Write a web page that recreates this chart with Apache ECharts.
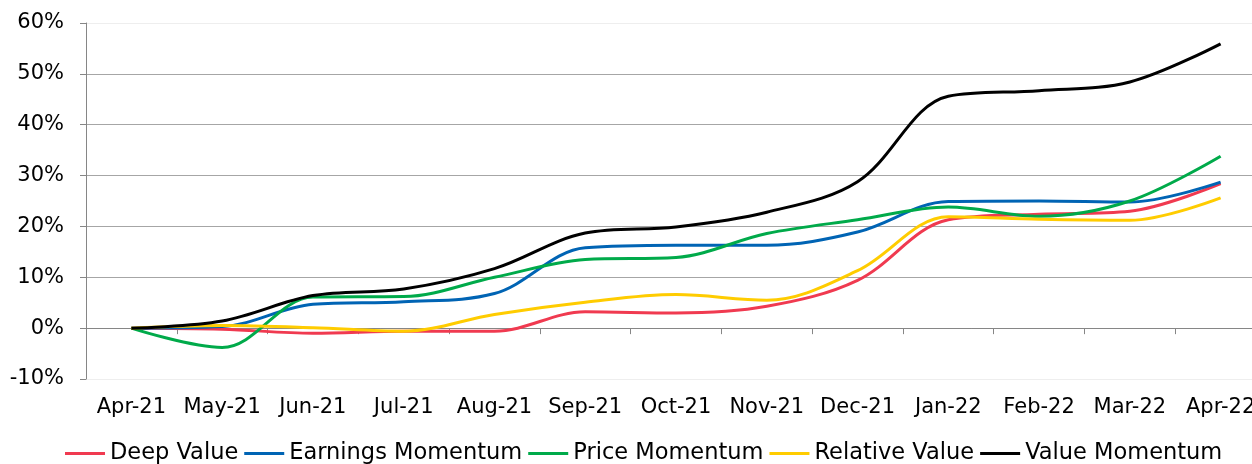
<!DOCTYPE html>
<html>
<head>
	<meta charset="utf-8">
	<title>Factor returns</title>
	<script src="https://cdn.jsdelivr.net/npm/echarts@6/dist/echarts.min.js"></script>
	<style>
		html, body { margin: 0; padding: 0; background: #fff; overflow: hidden; }
		/* the plot runs a little past the right edge of the window, as in the source */
		#chart { width: 1266px; height: 464px; }
	</style>
</head>
<body>
	<div id="chart"></div>
	<script type="text/javascript">
		// months on the x axis
		var months = ['Apr-21', 'May-21', 'Jun-21', 'Jul-21', 'Aug-21', 'Sep-21', 'Oct-21',
			'Nov-21', 'Dec-21', 'Jan-22', 'Feb-22', 'Mar-22', 'Apr-22'];

		// cumulative return, in %
		var deepValue = [0, -0.2, -1.0, -0.6, -0.6, 3.2, 3.0, 4.3, 9.4, 21.3, 22.4, 23.0, 28.4];
		var earningsMomentum = [0, 0.3, 4.7, 5.2, 6.8, 15.8, 16.3, 16.3, 18.9, 24.9, 25.0, 24.8, 28.7];
		var priceMomentum = [0, -3.8, 6.1, 6.2, 10.0, 13.5, 13.9, 18.6, 21.3, 23.8, 22.0, 25.0, 33.8];
		var relativeValue = [0, 0.5, 0.1, -0.6, 2.7, 5.1, 6.6, 5.5, 11.3, 21.9, 21.4, 21.2, 25.6];
		var valueMomentum = [0, 1.4, 6.4, 7.7, 11.7, 18.7, 19.9, 22.8, 28.8, 45.6, 46.7, 48.4, 55.9];

		var yTicks = [-10, 0, 10, 20, 30, 40, 50, 60];

		var seriesList = [
			{ name: 'Deep Value', data: deepValue, color: '#F03A50' },
			{ name: 'Earnings Momentum', data: earningsMomentum, color: '#0064B4' },
			{ name: 'Price Momentum', data: priceMomentum, color: '#00AA4A' },
			{ name: 'Relative Value', data: relativeValue, color: '#FFCC00' },
			{ name: 'Value Momentum', data: valueMomentum, color: '#000000' }
		];

		var font = 'DejaVu Sans, Verdana, sans-serif';
		var myChart = echarts.init(document.getElementById('chart'));

		// faint lines at the top and bottom, gray ones in between
		var gridColors = yTicks.map(function(v, i) {
			return (i === 0 || i === yTicks.length - 1) ? '#eeeeee' : '#a6a6a6';
		});

		var option = {
			animation: false,
			grid: { left: 86, right: 0, top: 23, bottom: 85 },
			legend: {
				left: 65,
				top: 442,
				padding: 0,
				icon: 'rect',
				itemWidth: 40,
				itemHeight: 3,
				itemGap: 6,
				textStyle: { fontFamily: font, fontSize: 22.5, color: '#000' },
				data: seriesList.map(function(s) { return s.name; })
			},
			xAxis: [{
				// axis line on 0% with ticks
				type: 'category',
				data: months,
				boundaryGap: true,
				axisLine: { onZero: true, lineStyle: { color: '#868686', width: 1 } },
				axisTick: { show: true, length: 6, interval: 0, lineStyle: { color: '#868686' } },
				axisLabel: { show: false },
				splitLine: { show: false }
			}, {
				// labels along the bottom
				type: 'category',
				position: 'bottom',
				data: months,
				boundaryGap: true,
				axisLine: { show: false, onZero: false },
				axisTick: { show: false },
				axisLabel: { interval: 0, margin: 18, fontFamily: font, fontSize: 21, color: '#000' },
				splitLine: { show: false }
			}],
			yAxis: {
				type: 'value',
				min: -10,
				max: 60,
				interval: 10,
				axisLine: { show: true, lineStyle: { color: '#868686' } },
				axisTick: { show: true, length: 6, lineStyle: { color: '#868686' } },
				axisLabel: { formatter: '{value}%', margin: 22, fontFamily: font, fontSize: 21, color: '#000' },
				splitLine: { show: true, lineStyle: { color: gridColors, width: 1 } }
			},
			series: seriesList.map(function(s) {
				return {
					name: s.name,
					type: 'line',
					xAxisIndex: 0,
					data: s.data,
					smooth: 0.35,
					symbol: 'none',
					color: s.color,
					lineStyle: { width: 3, color: s.color }
				};
			})
		};
		myChart.setOption(option);
	</script>
</body>
</html>
